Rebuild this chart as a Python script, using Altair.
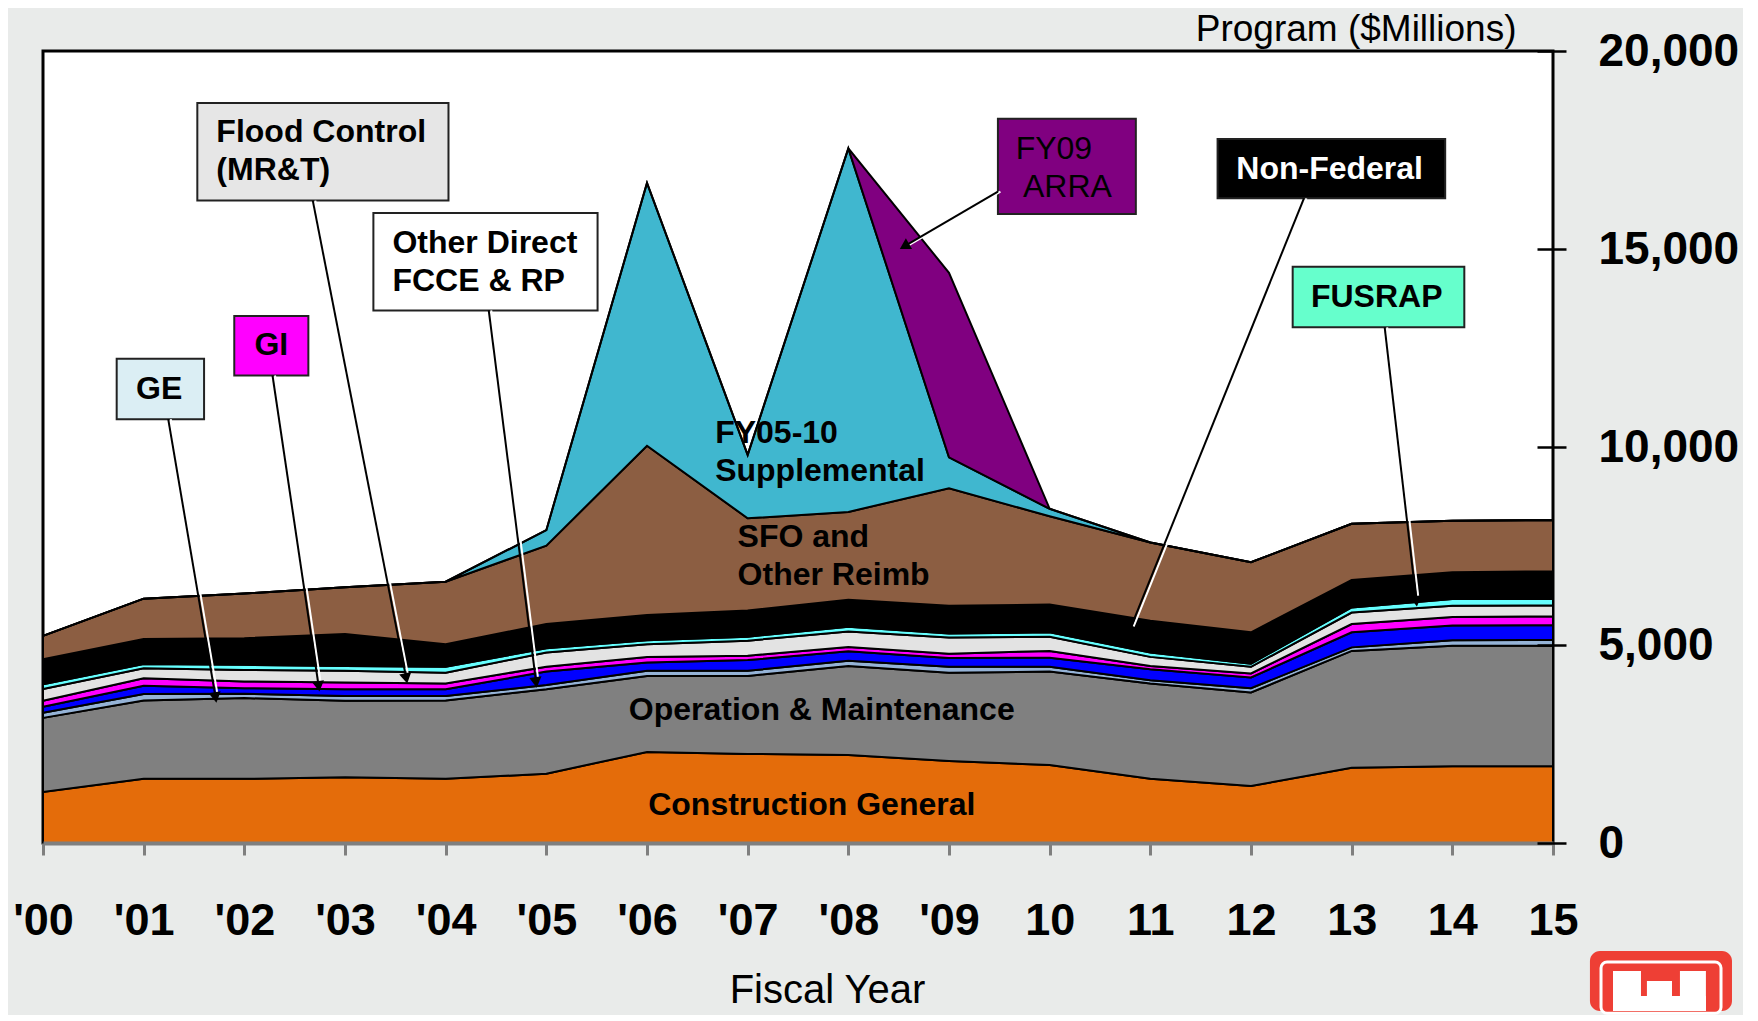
import math
import json
import altair as alt
import pandas as pd

# ---------------- data ----------------
years = list(range(16))
tick_labels = ["'00", "'01", "'02", "'03", "'04", "'05", "'06", "'07", "'08", "'09",
               "10", "11", "12", "13", "14", "15"]

series_names = ["Construction General", "Operation & Maintenance", "GE",
                "Other Direct FCCE & RP", "GI", "Flood Control (MR&T)", "FUSRAP",
                "Non-Federal", "SFO and Other Reimb", "FY05-10 Supplemental", "FY09 ARRA"]

construction_general = [1290, 1620, 1620, 1660, 1620, 1750, 2300, 2250, 2220, 2070, 1970, 1620, 1440, 1900, 1940, 1940]
operation_maintenance = [1870, 1980, 2040, 1930, 1980, 2130, 1920, 1970, 2250, 2230, 2360, 2410, 2360, 2950, 3040, 3040]
general_expenses = [130, 160, 110, 120, 110, 110, 130, 130, 130, 150, 120, 80, 110, 90, 140, 150]
other_direct = [150, 210, 140, 170, 170, 340, 210, 270, 240, 220, 230, 280, 270, 380, 370, 370]
general_investigations = [150, 190, 170, 170, 150, 120, 140, 110, 110, 110, 170, 80, 100, 210, 220, 220]
flood_control_mrt = [300, 250, 290, 300, 270, 360, 320, 380, 390, 410, 360, 230, 170, 290, 280, 280]
fusrap = [120, 110, 130, 120, 150, 110, 100, 100, 120, 100, 110, 110, 80, 130, 170, 160]
non_federal = [630, 630, 670, 810, 570, 610, 640, 660, 680, 700, 700, 800, 790, 690, 680, 700]
sfo_reimb = [590, 1020, 1130, 1180, 1580, 1980, 4270, 2330, 2220, 2970, 2230, 1980, 1770, 1420, 1300, 1290]
supplemental = [0, 0, 0, 0, 0, 390, 6640, 1600, 9180, 780, 190, 0, 0, 0, 0, 0]
arra = [0, 0, 0, 0, 0, 0, 0, 0, 0, 4660, 0, 0, 0, 0, 0, 0]

series_values = [construction_general, operation_maintenance, general_expenses, other_direct,
                 general_investigations, flood_control_mrt, fusrap, non_federal, sfo_reimb,
                 supplemental, arra]

series_colors = ["#E46C0A", "#808080", "#95B3D7", "#0000FF", "#FF00FF", "#E3E3E3",
                 "#66FFFF", "#000000", "#8C5E42", "#40B7CF", "#800080"]

# annotation boxes (in data units: year index, $M)
box_x0 = [0.732, 1.900, 1.533, 3.282, 9.486, 11.668, 12.414]
box_x1 = [1.600, 2.636, 4.028, 5.509, 10.856, 13.929, 14.119]
box_top = [12230, 13305, 18687, 15912, 18290, 17780, 14553]
box_bottom = [10702, 11806, 16222, 13449, 15884, 16280, 13023]
box_fills = ["#DBEEF4", "#FF00FF", "#E6E6E6", "#FFFFFF", "#800080", "#000000", "#66FFCC"]

# arrows (from box to layer)
arrow_x0 = [1.244, 2.280, 2.680, 4.428, 9.486, 12.526, 13.328]
arrow_y0 = [10702, 11806, 16222, 13449, 16449, 16280, 13023]
arrow_x1 = [1.711, 2.736, 3.605, 4.896, 8.572, 10.80, 13.64]
arrow_y1 = [3720, 4000, 4200, 4100, 15090, 5407, 6150]

# text labels
center_bold_text = ["GE", "GI", "Non-Federal", "FUSRAP", "Operation & Maintenance", "Construction General"]
center_bold_x = [1.154, 2.268, 12.781, 13.249, 7.736, 7.637]
center_bold_y = [11467, 12571, 17015, 13788, 3369, 962]
center_bold_color = ["black", "black", "white", "black", "black", "black"]

left_bold_text = ["Flood Control", "(MR&T)", "Other Direct", "FCCE & RP",
                  "FY05-10", "Supplemental", "SFO and", "Other Reimb"]
left_bold_x = [1.722, 1.722, 3.471, 3.471, 6.677, 6.677, 6.900, 6.900]
left_bold_y = [17950, 16987, 15147, 14184, 10361, 9399, 7730, 6765]

normal_text = ["FY09", "ARRA"]
normal_x = [10.042, 10.176]
normal_y = [17525, 16563]

y_ticks = [0, 5000, 10000, 15000, 20000]

# logo (corner emblem) pieces, data units
logo_x0 = [15.367]
logo_x1 = [16.778]
logo_y0 = [-4242]
logo_y1 = [-2727]
frame_x0 = [15.477]
frame_x1 = [16.669]
frame_y0 = [-4300]
frame_y1 = [-3005]
castle_x0 = [15.596, 15.933, 16.261, 15.596]
castle_x1 = [15.874, 16.182, 16.519, 16.519]
castle_y0 = [-4242, -4242, -4242, -4242]
castle_y1 = [-3232, -3485, -3232, -3864]

# ---------------- layout constants ----------------
W, H = 1510, 792
FONT = "Liberation Sans"

rows = []
for i, (name, vals) in enumerate(zip(series_names, series_values)):
    for yr, v in zip(years, vals):
        rows.append({"x": yr, "y": v, "series": name, "order": i})
df_area = pd.DataFrame(rows)

df_box = pd.DataFrame({"x": box_x0, "x2": box_x1, "y": box_bottom, "y2": box_top, "fill": box_fills})

px_x = W / 15.0
px_y = H / 20000.0
angles = []
for a, b, c, d in zip(arrow_x0, arrow_y0, arrow_x1, arrow_y1):
    dx = (c - a) * px_x
    dy = -(d - b) * px_y
    angles.append(math.degrees(math.atan2(dx, -dy)) % 360)
df_arrow = pd.DataFrame({"x": arrow_x0, "y": arrow_y0, "x2": arrow_x1, "y2": arrow_y1, "angle": angles})
df_head = pd.DataFrame({"x": arrow_x1, "y": arrow_y1, "angle": angles})

df_cb = pd.DataFrame({"x": center_bold_x, "y": center_bold_y, "t": center_bold_text, "c": center_bold_color})
df_lb = pd.DataFrame({"x": left_bold_x, "y": left_bold_y, "t": left_bold_text})
df_nt = pd.DataFrame({"x": normal_x, "y": normal_y, "t": normal_text})

df_logo = pd.DataFrame({"x": logo_x0, "x2": logo_x1, "y": logo_y0, "y2": logo_y1})
df_frame = pd.DataFrame({"x": frame_x0, "x2": frame_x1, "y": frame_y0, "y2": frame_y1})
df_castle = pd.DataFrame({"x": castle_x0, "x2": castle_x1, "y": castle_y0, "y2": castle_y1})

xscale = alt.Scale(domain=[0, 15], nice=False, zero=False)
yscale = alt.Scale(domain=[0, 20000], nice=False)

label_expr = "[" + ",".join(json.dumps(s) for s in tick_labels) + "][datum.value]"

x_axis = alt.Axis(values=years, labelExpr=label_expr, title="Fiscal Year",
                  labelFontSize=45, labelFontWeight="bold", labelFont=FONT, labelColor="black",
                  labelPadding=43, labelFlush=False,
                  tickSize=12, tickWidth=3, tickColor="#7F7F7F",
                  domainColor="#7F7F7F", domainWidth=4, grid=False,
                  titleFontSize=40, titleFontWeight="normal", titleFont=FONT, titleColor="black",
                  titlePadding=27, titleX=784, titleAlign="center", zindex=1)

y_axis = alt.Axis(orient="right", values=y_ticks, format=",d", title="Program ($Millions)",
                  labelFontSize=46, labelFontWeight="bold", labelFont=FONT, labelColor="black",
                  labelPadding=32, tickSize=29, tickWidth=2.5, tickColor="black",
                  offset=-16, domain=False, grid=False,
                  titleAngle=0, titleAlign="right", titleBaseline="middle",
                  titleX=-21, titleY=-22, titleFontSize=37, titleFontWeight="normal",
                  titleFont=FONT, titleColor="black", zindex=1)

X = alt.X("x:Q", scale=xscale)
Y = alt.Y("y:Q", scale=yscale)

areas = alt.Chart(df_area).mark_area(stroke="black", strokeWidth=2, interpolate="linear").encode(
    x=alt.X("x:Q", scale=xscale, axis=x_axis),
    y=alt.Y("y:Q", stack="zero", scale=yscale, axis=y_axis),
    color=alt.Color("series:N", scale=alt.Scale(domain=series_names, range=series_colors), legend=None),
    order=alt.Order("order:Q", sort="ascending"),
)

arrows_white = alt.Chart(df_arrow).mark_rule(color="white", strokeWidth=2, xOffset=2.5, x2Offset=2.5).encode(
    x=X, y=Y, x2="x2:Q", y2="y2:Q")
arrows = alt.Chart(df_arrow).mark_rule(color="black", strokeWidth=2).encode(
    x=X, y=Y, x2="x2:Q", y2="y2:Q")
heads = alt.Chart(df_head).mark_point(shape="triangle", filled=True, color="black", size=150, opacity=1).encode(
    x=X, y=Y, angle=alt.Angle("angle:Q", scale=None))

boxes = alt.Chart(df_box).mark_rect(stroke="#222222", strokeWidth=2).encode(
    x=X, x2="x2:Q", y=Y, y2="y2:Q", fill=alt.Fill("fill:N", scale=None))

txt_cb = alt.Chart(df_cb).mark_text(font=FONT, fontSize=32, fontWeight="bold", align="center", baseline="middle").encode(
    x=X, y=Y, text="t:N", color=alt.Color("c:N", scale=None))
txt_lb = alt.Chart(df_lb).mark_text(font=FONT, fontSize=32, fontWeight="bold", align="left", baseline="middle", color="black").encode(
    x=X, y=Y, text="t:N")
txt_nt = alt.Chart(df_nt).mark_text(font=FONT, fontSize=32, fontWeight="normal", align="center", baseline="middle", color="black").encode(
    x=X, y=Y, text="t:N")

logo = alt.Chart(df_logo).mark_rect(fill="#EE3F35", cornerRadius=10).encode(
    x=X, x2="x2:Q", y=Y, y2="y2:Q")
frame = alt.Chart(df_frame).mark_rect(fill="#EE3F35", stroke="white", strokeWidth=3, cornerRadius=6).encode(
    x=X, x2="x2:Q", y=Y, y2="y2:Q")
castle = alt.Chart(df_castle).mark_rect(fill="white").encode(
    x=X, x2="x2:Q", y=Y, y2="y2:Q")

chart = alt.layer(areas, boxes, arrows_white, arrows, heads, txt_cb, txt_lb, txt_nt,
                  logo, frame, castle).properties(
    width=W, height=H,
    padding={"left": 4, "top": 2, "right": 4, "bottom": 0},
    background="#E9EBEA",
).configure_view(fill="white", stroke="black", strokeWidth=3)

chart.save("out.html", embed_options={"renderer": "svg", "actions": False})
